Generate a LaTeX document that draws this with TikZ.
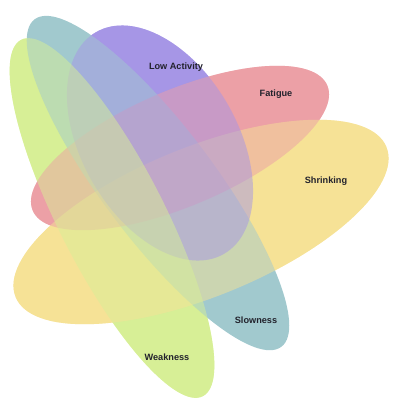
\documentclass[tikz,border=0pt]{standalone}
\usepackage{fontspec}
\setmainfont{Liberation Sans}

\definecolor{slowcol}{RGB}{161,201,206}
\definecolor{shrinkcol}{RGB}{246,226,150}
\definecolor{fatcol}{RGB}{236,160,166}
\definecolor{lowcol}{RGB}{166,150,230}
\definecolor{weakcol}{RGB}{215,239,150}
\definecolor{labcol}{RGB}{34,34,44}

\tikzset{
  setlabel/.style={font=\bfseries\fontsize{9.2}{11}\selectfont, text=labcol, inner sep=1pt},
  mixfill/.style={fill opacity=0.5}
}

\begin{document}
\begin{tikzpicture}[x=1bp,y=1bp]
            \useasboundingbox (0,0) rectangle (393,-405);

            % Centres of the ellipses
            \coordinate (Slow) at (158,-183);
            \coordinate (Shrink) at (201,-222);
            \coordinate (Fat) at (180,-148);
            \coordinate (Low) at (160,-143);
            \coordinate (Weak) at (112,-218);

            % First pass: plain colours, teal ends on top
            \fill[weakcol, rotate around={-63:(Weak)}] (Weak) ellipse [x radius=200, y radius=53];
            \fill[lowcol, rotate around={-60:(Low)}] (Low) ellipse [x radius=128, y radius=78];
            \fill[fatcol, rotate around={23:(Fat)}] (Fat) ellipse [x radius=160, y radius=58];
            \fill[shrinkcol, rotate around={22:(Shrink)}] (Shrink) ellipse [x radius=200, y radius=75];
            \fill[slowcol, rotate around={-53:(Slow)}] (Slow) ellipse [x radius=205, y radius=56];

            % Second pass: half see-through, so the overlaps mix
            \fill[shrinkcol, mixfill, rotate around={22:(Shrink)}] (Shrink) ellipse [x radius=200, y radius=75];
            \fill[fatcol, mixfill, rotate around={23:(Fat)}] (Fat) ellipse [x radius=160, y radius=58];
            \fill[lowcol, mixfill, rotate around={-60:(Low)}] (Low) ellipse [x radius=128, y radius=78];
            \fill[weakcol, mixfill, rotate around={-63:(Weak)}] (Weak) ellipse [x radius=200, y radius=53];

            % Set names
            \node[setlabel] (lowlab) at (176,-67) {Low Activity};
            \node[setlabel] (fatlab) at (276,-94) {Fatigue};
            \node[setlabel] (shrinklab) at (326,-181) {Shrinking};
            \node[setlabel] (slowlab) at (256,-320) {Slowness};
            \node[setlabel] (weaklab) at (167,-357) {Weakness};
\end{tikzpicture}
\end{document}
